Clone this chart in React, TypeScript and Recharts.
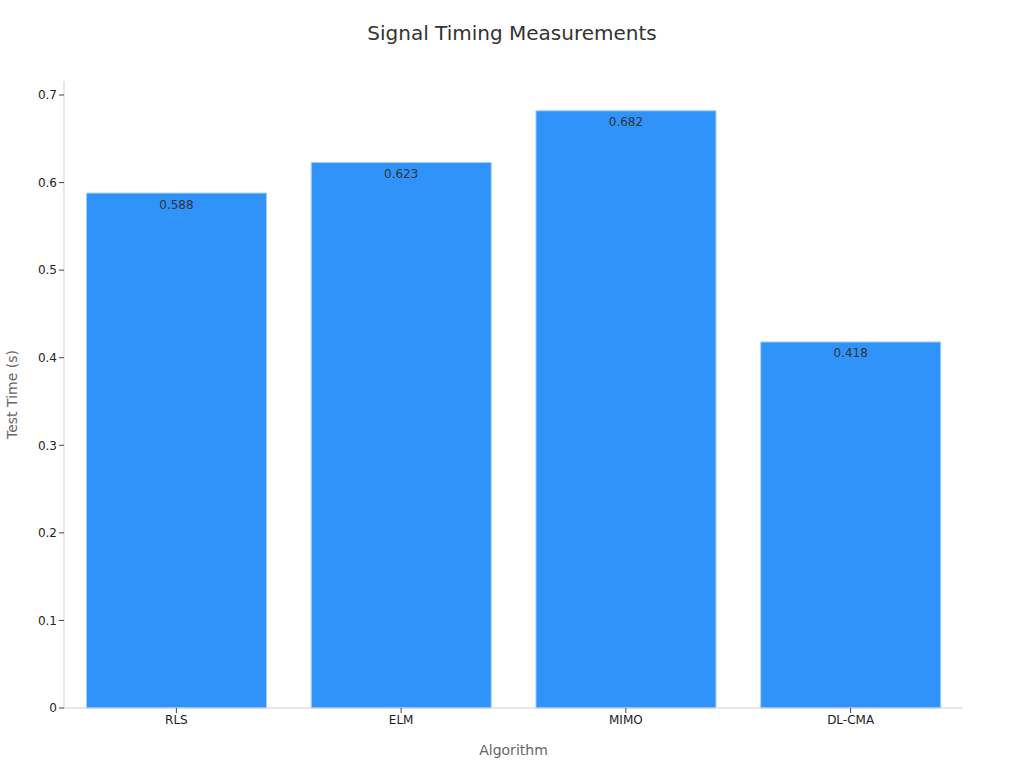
import { BarChart, Bar, XAxis, YAxis, LabelList } from 'recharts';

const categories = ['RLS', 'ELM', 'MIMO', 'DL-CMA'];
const testTimes = [0.588, 0.623, 0.682, 0.418];
const yTicks = [0, 0.1, 0.2, 0.3, 0.4, 0.5, 0.6, 0.7];

const data = categories.map((name, i) => ({ name, value: testTimes[i] }));

const font = '"DejaVu Sans", sans-serif';

export default function App() {
    return (
        <div style={{ position: 'absolute', left: 0, top: 0, width: 1024, height: 768, background: '#fff', fontFamily: font }}>
            <div style={{ position: 'absolute', top: 21, left: 0, width: 1024, textAlign: 'center', fontSize: 20, color: '#333' }}>
                Signal Timing Measurements
            </div>
            <BarChart
                width={1024}
                height={768}
                data={data}
                margin={{ top: 81, right: 61, left: 0, bottom: 30 }}
                barCategoryGap="10%"
            >
                <XAxis
                    dataKey="name"
                    height={30}
                    tick={{ fill: '#222', fontSize: 12, fontFamily: font }}
                    tickLine={{ stroke: '#444' }}
                    tickSize={5}
                    axisLine={{ stroke: '#d0d0d0' }}
                    label={{ value: 'Algorithm', position: 'insideBottom', offset: -17, fill: '#666', fontSize: 14, fontFamily: font }}
                />
                <YAxis
                    width={64}
                    domain={[0, 0.716]}
                    ticks={yTicks}
                    tick={{ fill: '#222', fontSize: 12, fontFamily: font }}
                    tickLine={{ stroke: '#444' }}
                    tickSize={5}
                    axisLine={{ stroke: '#d0d0d0' }}
                    label={{ value: 'Test Time (s)', angle: -90, position: 'insideLeft', offset: 12, fill: '#666', fontSize: 14, fontFamily: font, style: { textAnchor: 'middle' } }}
                />
                <Bar dataKey="value" fill="#2f93fa" stroke="#a8cdf7" strokeWidth={1} isAnimationActive={false}>
                    <LabelList dataKey="value" position="insideTop" offset={7} fill="#333" fontSize={12} fontFamily={font} />
                </Bar>
            </BarChart>
        </div>
    );
}
